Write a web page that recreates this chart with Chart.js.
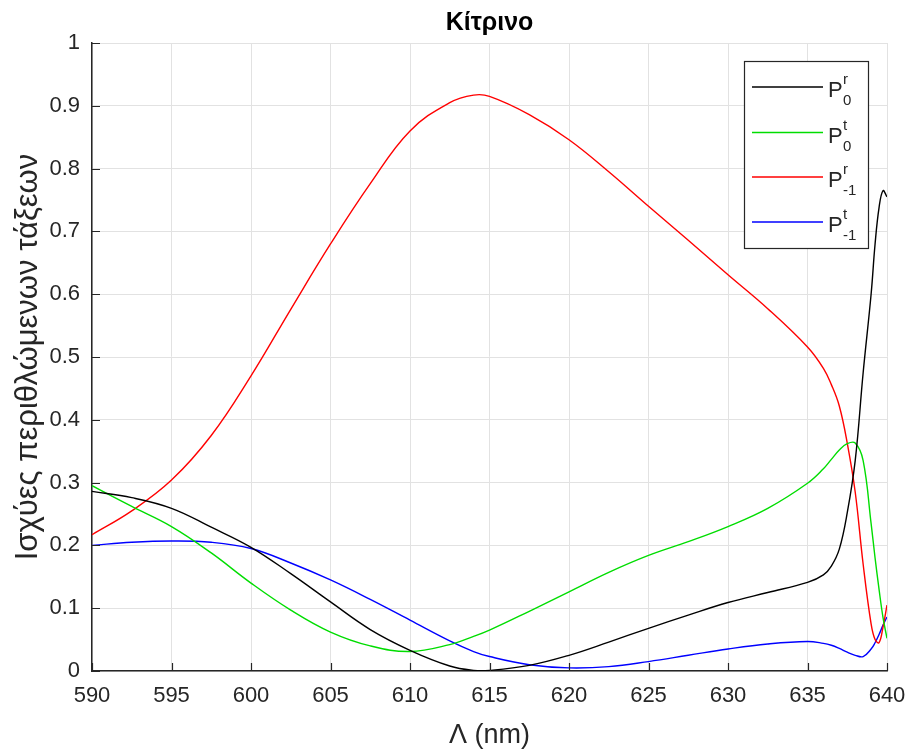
<!DOCTYPE html>
<html>
<head>
<meta charset="utf-8">
<script src="https://cdn.jsdelivr.net/npm/chart.js@4.4.1/dist/chart.umd.min.js"></script>
<style>
  html, body { margin: 0; padding: 0; background: #fff; }
  #wrap { width: 912px; height: 752px; }
</style>
</head>
<body>
<div id="wrap"><canvas id="diffChart" width="912" height="752"></canvas></div>
<script>
// ---------------------------------------------------------------
// diffraction order powers vs grating period (yellow)
// ---------------------------------------------------------------

const wavelength = [590, 592.5, 595, 597.5, 600, 602.5, 605, 607.5, 610, 612.5, 614, 615, 617.5, 620, 622.5, 625, 627.5, 630, 632.5, 635, 636, 636.5, 637, 637.5, 638, 638.5, 639, 639.25, 639.5, 639.75, 640];

// P^r_0
const p0r = [0.286, 0.276, 0.259, 0.229, 0.197, 0.155, 0.110, 0.066, 0.033, 0.008, 0.001, 0.001, 0.009, 0.025, 0.046, 0.068, 0.089, 0.109, 0.125, 0.141, 0.153, 0.167, 0.194, 0.252, 0.335, 0.475, 0.600, 0.680, 0.738, 0.765, 0.755];

// P^t_0
const p0t = [0.295, 0.262, 0.230, 0.188, 0.140, 0.097, 0.062, 0.040, 0.031, 0.042, 0.055, 0.065, 0.095, 0.126, 0.157, 0.184, 0.206, 0.230, 0.259, 0.299, 0.322, 0.337, 0.352, 0.362, 0.363, 0.335, 0.235, 0.180, 0.130, 0.085, 0.052];

// P^r_-1
const pm1r = [0.217, 0.255, 0.304, 0.375, 0.470, 0.576, 0.680, 0.776, 0.860, 0.905, 0.917, 0.915, 0.886, 0.846, 0.795, 0.740, 0.686, 0.631, 0.577, 0.516, 0.482, 0.456, 0.422, 0.363, 0.285, 0.170, 0.075, 0.050, 0.045, 0.070, 0.105];

// P^t_-1
const pm1t = [0.200, 0.205, 0.207, 0.205, 0.195, 0.172, 0.145, 0.114, 0.081, 0.048, 0.031, 0.023, 0.010, 0.005, 0.007, 0.015, 0.025, 0.035, 0.043, 0.047, 0.044, 0.041, 0.036, 0.030, 0.025, 0.023, 0.035, 0.045, 0.058, 0.073, 0.086];

const seriesNames = [["r", "0"], ["t", "0"], ["r", "-1"], ["t", "-1"]];
const seriesColors = ["#000000", "#00dd00", "#ff0000", "#0000ff"];

const xTicks = [590, 595, 600, 605, 610, 615, 620, 625, 630, 635, 640];
const yTicks = [0, 0.1, 0.2, 0.3, 0.4, 0.5, 0.6, 0.7, 0.8, 0.9, 1];

const FONT = "'Liberation Sans', Arial, Helvetica, sans-serif";
const AXIS = "#262626";

function points(values){
    return wavelength.map((x, i) => ({ x: x, y: values[i] }));
}

// ---------------------------------------------------------------
// inward tick marks, title and legend box
// ---------------------------------------------------------------

const decorations = {

    id: "decorations",

    afterDraw(chart){

        const ctx = chart.ctx;
        const area = chart.chartArea;
        const xs = chart.scales.x;
        const ys = chart.scales.y;

        ctx.save();

        // tick marks pointing into the axes
        ctx.strokeStyle = AXIS;
        ctx.lineWidth = 1.2;
        ctx.beginPath();
        xTicks.forEach(v => {
            const px = Math.round(xs.getPixelForValue(v)) + 0.5;
            ctx.moveTo(px, area.bottom);
            ctx.lineTo(px, area.bottom - 8);
        });
        yTicks.forEach(v => {
            const py = Math.round(ys.getPixelForValue(v)) + 0.5;
            ctx.moveTo(area.left, py);
            ctx.lineTo(area.left + 8, py);
        });
        ctx.stroke();

        // title
        ctx.fillStyle = "#000";
        ctx.font = "bold 25px " + FONT;
        ctx.textAlign = "center";
        ctx.textBaseline = "middle";
        ctx.fillText("Κίτρινο", (area.left + area.right) / 2, 23);

        // legend
        const box = { left: 744, top: 61, right: 868, bottom: 248 };
        ctx.fillStyle = "#fff";
        ctx.fillRect(box.left, box.top, box.right - box.left, box.bottom - box.top);
        ctx.strokeStyle = AXIS;
        ctx.lineWidth = 1.2;
        ctx.strokeRect(box.left + 0.5, box.top + 0.5, box.right - box.left, box.bottom - box.top);

        const rows = [87, 132.5, 177, 222];
        rows.forEach((y, i) => {
            ctx.strokeStyle = seriesColors[i];
            ctx.lineWidth = 1.3;
            ctx.beginPath();
            ctx.moveTo(752, y);
            ctx.lineTo(823, y);
            ctx.stroke();

            ctx.fillStyle = AXIS;
            ctx.textAlign = "left";
            ctx.textBaseline = "alphabetic";
            ctx.font = "22px " + FONT;
            ctx.fillText("P", 828, y + 10);
            ctx.font = "15px " + FONT;
            ctx.fillText(seriesNames[i][0], 843, y - 3);
            ctx.fillText(seriesNames[i][1], 843, y + 18);
        });

        ctx.restore();
    }

};

const datasets = [p0r, p0t, pm1r, pm1t].map((values, i) => ({
    label: "P" + seriesNames[i][0] + seriesNames[i][1],
    data: points(values),
    borderColor: seriesColors[i],
    borderWidth: 1.4,
    pointRadius: 0,
    fill: false,
    tension: 0.4
}));

new Chart(document.getElementById("diffChart"), {

    type: "line",

    data: { datasets: datasets },

    plugins: [decorations],

    options: {

        responsive: false,
        animation: false,
        events: [],

        layout: {
            padding: { top: 43, right: 25, left: 0, bottom: 0 }
        },

        plugins: {
            legend: { display: false },
            tooltip: { enabled: false },
            title: { display: false }
        },

        scales: {

            x: {
                type: "linear",
                min: 590,
                max: 640,
                afterBuildTicks: s => { s.ticks = xTicks.map(v => ({ value: v })); },
                afterFit: s => {
                    s.height = 81;
                    s.paddingLeft = 0;
                    s.paddingRight = 0;
                },
                ticks: {
                    color: AXIS,
                    padding: 12,
                    maxRotation: 0,
                    font: { family: FONT, size: 22 }
                },
                grid: { color: "#e2e2e2", drawTicks: false, lineWidth: 1 },
                border: { color: AXIS, width: 1.5 },
                title: {
                    display: true,
                    text: "Λ (nm)",
                    color: AXIS,
                    padding: { top: 0, bottom: 0 },
                    font: { family: FONT, size: 27 }
                }
            },

            y: {
                type: "linear",
                min: 0,
                max: 1,
                afterBuildTicks: s => { s.ticks = yTicks.map(v => ({ value: v })); },
                afterFit: s => {
                    s.width = 92;
                    s.paddingTop = 0;
                    s.paddingBottom = 0;
                },
                ticks: {
                    color: AXIS,
                    padding: 12,
                    font: { family: FONT, size: 22 },
                    callback: v => String(Math.round(v * 10) / 10)
                },
                grid: { color: "#e2e2e2", drawTicks: false, lineWidth: 1 },
                border: { color: AXIS, width: 1.5 },
                title: {
                    display: true,
                    text: "Ισχύες περιθλώμενων τάξεων",
                    color: AXIS,
                    padding: { top: 10, bottom: 0 },
                    font: { family: FONT, size: 31 }
                }
            }

        }

    }

});
</script>
</body>
</html>
